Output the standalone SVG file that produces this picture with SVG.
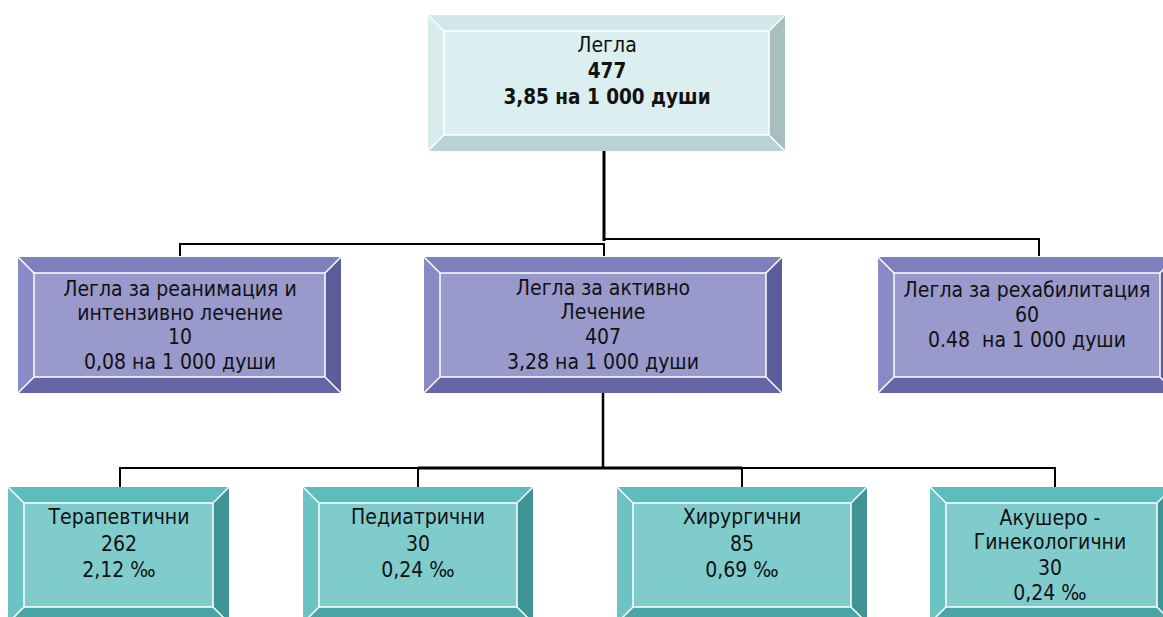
<svg xmlns="http://www.w3.org/2000/svg" width="1163" height="617" viewBox="0 0 1163 617">
<style>
  .sep { stroke: #ffffff; stroke-width: 1.5; }
  .txt { font-family: "DejaVu Sans Condensed", "DejaVu Sans", sans-serif; font-size: 21px; fill: #111111; text-anchor: middle; }
  .b { font-weight: bold; font-size: 20.5px; }
  .conn { fill: none; stroke: #000000; stroke-width: 2; }
  .lb .c { fill: #dbeef0; } .lb .t { fill: #d2e7e9; } .lb .l { fill: #d8eced; } .lb .r { fill: #a8bfc0; } .lb .bt { fill: #b9d2d4; }
  .pu .c { fill: #9999cc; } .pu .t { fill: #7f7fbd; } .pu .l { fill: #8a8ac6; } .pu .r { fill: #5c5c99; } .pu .bt { fill: #6666a6; }
  .te .c { fill: #80cccc; } .te .t { fill: #5cbdbd; } .te .l { fill: #6cc3c3; } .te .r { fill: #409494; } .te .bt { fill: #4aa6a6; }
</style>

<g id="connectors">
  <path class="conn" d="M604,151 V241" style="stroke-width:3"/>
  <path class="conn" d="M603,239 H1039 V256"/>
  <path class="conn" d="M180,256 V244 H604 V256"/>
  <path class="conn" d="M603,393 V468" style="stroke-width:2.5"/>
  <path class="conn" d="M120,487 V468 H1055 V487"/>
  <path class="conn" d="M418,468 H742" style="stroke-width:3"/>
  <path class="conn" d="M418,468 V487"/>
  <path class="conn" d="M742,468 V487"/>
</g>

<g id="node-root" class="lb">
  <polygon class="t" points="428,15 785,15 769,31 444,31"/>
  <polygon class="l" points="428,15 444,31 444,135 428,151"/>
  <polygon class="r" points="785,15 785,151 769,135 769,31"/>
  <polygon class="bt" points="428,151 444,135 769,135 785,151"/>
  <rect class="c" x="444" y="31" width="325" height="104"/>
  <path class="sep" fill="none" d="M444,31 H769 V135 H444 Z M428,15 L444,31 M785,15 L769,31 M428,151 L444,135 M785,151 L769,135"/>
  <text class="txt" x="607" y="52">Легла</text>
  <text class="txt b" x="607" y="78">477</text>
  <text class="txt b" x="607" y="104">3,85 на 1 000 души</text>
</g>

<g id="node-reanimation" class="pu">
  <polygon class="t" points="18,257 341,257 325,273 34,273"/>
  <polygon class="l" points="18,257 34,273 34,377 18,393"/>
  <polygon class="r" points="341,257 341,393 325,377 325,273"/>
  <polygon class="bt" points="18,393 34,377 325,377 341,393"/>
  <rect class="c" x="34" y="273" width="291" height="104"/>
  <path class="sep" fill="none" d="M34,273 H325 V377 H34 Z M18,257 L34,273 M341,257 L325,273 M18,393 L34,377 M341,393 L325,377"/>
  <text class="txt" x="180" y="296">Легла за реанимация и</text>
  <text class="txt" x="180" y="320">интензивно лечение</text>
  <text class="txt" x="180" y="344">10</text>
  <text class="txt" x="180" y="369">0,08 на 1 000 души</text>
</g>

<g id="node-active" class="pu">
  <polygon class="t" points="424,257 782,257 766,273 440,273"/>
  <polygon class="l" points="424,257 440,273 440,377 424,393"/>
  <polygon class="r" points="782,257 782,393 766,377 766,273"/>
  <polygon class="bt" points="424,393 440,377 766,377 782,393"/>
  <rect class="c" x="440" y="273" width="326" height="104"/>
  <path class="sep" fill="none" d="M440,273 H766 V377 H440 Z M424,257 L440,273 M782,257 L766,273 M424,393 L440,377 M782,393 L766,377"/>
  <text class="txt" x="603" y="295">Легла за активно</text>
  <text class="txt" x="603" y="319">Лечение</text>
  <text class="txt" x="603" y="344">407</text>
  <text class="txt" x="603" y="369">3,28 на 1 000 души</text>
</g>

<g id="node-rehab" class="pu">
  <polygon class="t" points="878,257 1176,257 1160,273 894,273"/>
  <polygon class="l" points="878,257 894,273 894,377 878,393"/>
  <polygon class="r" points="1176,257 1176,393 1160,377 1160,273"/>
  <polygon class="bt" points="878,393 894,377 1160,377 1176,393"/>
  <rect class="c" x="894" y="273" width="266" height="104"/>
  <path class="sep" fill="none" d="M894,273 H1160 V377 H894 Z M878,257 L894,273 M1176,257 L1160,273 M878,393 L894,377 M1176,393 L1160,377"/>
  <text class="txt" x="1027" y="297">Легла за рехабилитация</text>
  <text class="txt" x="1027" y="322">60</text>
  <text class="txt" x="1027" y="347" xml:space="preserve">0.48  на 1 000 души</text>
</g>

<g id="node-therapeutic" class="te">
  <polygon class="t" points="8,487 229,487 213,503 24,503"/>
  <polygon class="l" points="8,487 24,503 24,607 8,623"/>
  <polygon class="r" points="229,487 229,623 213,607 213,503"/>
  <polygon class="bt" points="8,623 24,607 213,607 229,623"/>
  <rect class="c" x="24" y="503" width="189" height="104"/>
  <path class="sep" fill="none" d="M24,503 H213 V607 H24 Z M8,487 L24,503 M229,487 L213,503 M8,623 L24,607 M229,623 L213,607"/>
  <text class="txt" x="119" y="524">Терапевтични</text>
  <text class="txt" x="119" y="551">262</text>
  <text class="txt" x="119" y="577">2,12 ‰</text>
</g>

<g id="node-pediatric" class="te">
  <polygon class="t" points="303,487 533,487 517,503 319,503"/>
  <polygon class="l" points="303,487 319,503 319,607 303,623"/>
  <polygon class="r" points="533,487 533,623 517,607 517,503"/>
  <polygon class="bt" points="303,623 319,607 517,607 533,623"/>
  <rect class="c" x="319" y="503" width="198" height="104"/>
  <path class="sep" fill="none" d="M319,503 H517 V607 H319 Z M303,487 L319,503 M533,487 L517,503 M303,623 L319,607 M533,623 L517,607"/>
  <text class="txt" x="418" y="524">Педиатрични</text>
  <text class="txt" x="418" y="551">30</text>
  <text class="txt" x="418" y="577">0,24 ‰</text>
</g>

<g id="node-surgical" class="te">
  <polygon class="t" points="617,487 867,487 851,503 633,503"/>
  <polygon class="l" points="617,487 633,503 633,607 617,623"/>
  <polygon class="r" points="867,487 867,623 851,607 851,503"/>
  <polygon class="bt" points="617,623 633,607 851,607 867,623"/>
  <rect class="c" x="633" y="503" width="218" height="104"/>
  <path class="sep" fill="none" d="M633,503 H851 V607 H633 Z M617,487 L633,503 M867,487 L851,503 M617,623 L633,607 M867,623 L851,607"/>
  <text class="txt" x="742" y="524">Хирургични</text>
  <text class="txt" x="742" y="551">85</text>
  <text class="txt" x="742" y="577">0,69 ‰</text>
</g>

<g id="node-obstetric" class="te">
  <polygon class="t" points="930,487 1173,487 1157,503 946,503"/>
  <polygon class="l" points="930,487 946,503 946,607 930,623"/>
  <polygon class="r" points="1173,487 1173,623 1157,607 1157,503"/>
  <polygon class="bt" points="930,623 946,607 1157,607 1173,623"/>
  <rect class="c" x="946" y="503" width="211" height="104"/>
  <path class="sep" fill="none" d="M946,503 H1157 V607 H946 Z M930,487 L946,503 M1173,487 L1157,503 M930,623 L946,607 M1173,623 L1157,607"/>
  <text class="txt" x="1050" y="525">Акушеро -</text>
  <text class="txt" x="1050" y="549">Гинекологични</text>
  <text class="txt" x="1050" y="575">30</text>
  <text class="txt" x="1050" y="600">0,24 ‰</text>
</g>
</svg>
